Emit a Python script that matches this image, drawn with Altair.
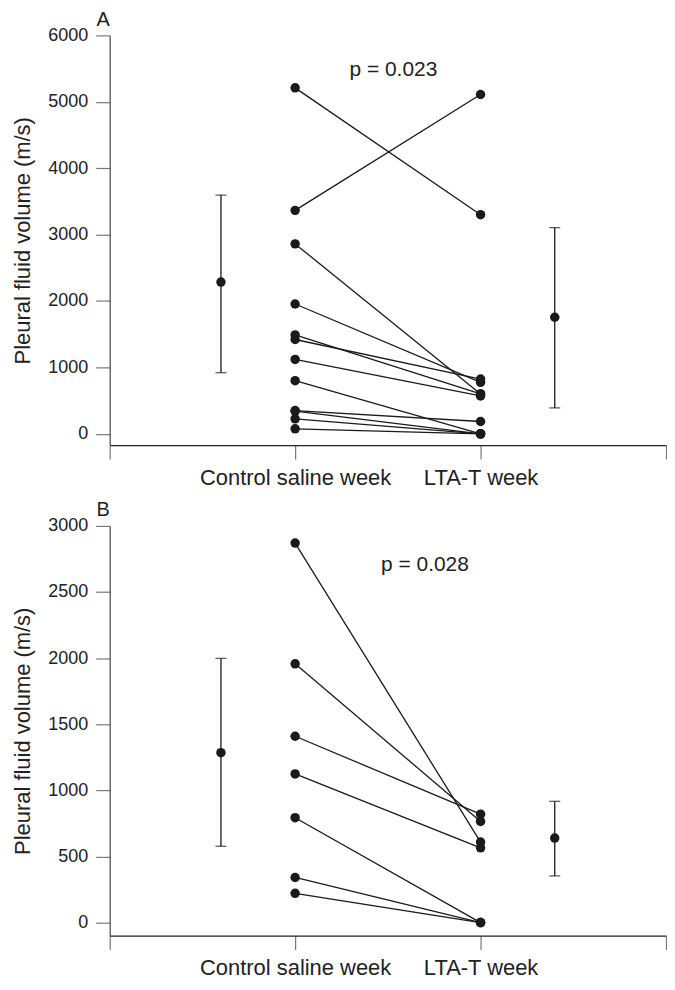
import altair as alt
import pandas as pd

# ---------------- data ----------------
WEEKS = ["Control saline week", "LTA-T week"]

A_CONTROL = [5210, 3365, 2860, 1955, 1490, 1420, 1120, 800, 350, 340, 225, 75]
A_LTAT = [3300, 5110, 600, 775, 600, 825, 570, 0, 185, 0, 0, 0]
A_MEAN = [2285, 1755]
A_UPPER = [3595, 3105]
A_LOWER = [920, 390]
A_P = "p = 0.023"
A_TICKS = [0, 1000, 2000, 3000, 4000, 5000, 6000]

B_CONTROL = [2870, 1957, 1409, 1124, 793, 341, 221]
B_LTAT = [609, 765, 820, 565, 0, 0, 0]
B_MEAN = [1285, 639]
B_UPPER = [1998, 917]
B_LOWER = [577, 353]
B_P = "p = 0.028"
B_TICKS = [0, 500, 1000, 1500, 2000, 2500, 3000]

Y_TITLE = "Pleural fluid volume (m/s)"

# ---------------- layout constants ----------------
WEEK_X = [1, 2]
SUMMARY_X = [0.6, 2.4]
X_DOMAIN = [0, 3]
A_Y_DOMAIN = [-171, 6000]
B_Y_DOMAIN = [-99, 3000]
A_P_POS = (1.53, 5477)
B_P_POS = (1.70, 2706)

FONT = "Liberation Sans"
INK = "#1a1a1a"
TXT = "#222"
W = 558
H_PANEL = 411


def panel(letter, control, ltat, mean, upper, lower, ptext, ppos, ticks, ydomain, height):
    pairs = []
    for i, (c, t) in enumerate(zip(control, ltat)):
        pairs.append({"patient": i, "week": WEEKS[0], "x": WEEK_X[0], "value": c})
        pairs.append({"patient": i, "week": WEEKS[1], "x": WEEK_X[1], "value": t})
    pdf = pd.DataFrame(pairs)
    sdf = pd.DataFrame({"x": SUMMARY_X, "value": mean, "upper": upper, "lower": lower})
    tdf = pd.DataFrame({"x": [ppos[0]], "value": [ppos[1]], "label": [ptext]})
    ldf = pd.DataFrame({"label": [letter]})

    xscale = alt.Scale(domain=X_DOMAIN, nice=False, zero=False)
    yscale = alt.Scale(domain=ydomain, nice=False, zero=False)
    xaxis = alt.Axis(
        values=[0, 1, 2, 3],
        labelExpr=f"datum.value == 1 ? '{WEEKS[0]}' : datum.value == 2 ? '{WEEKS[1]}' : ''",
        title=None, grid=False, tickSize=14, labelPadding=8, labelFontSize=22,
        labelOverlap=False, labelFlush=False, labelLimit=400, domainColor="#222",
        tickColor="#777", labelColor=TXT, labelFont=FONT, tickWidth=1.2,
        domainWidth=1.3,
    )
    yaxis = alt.Axis(
        values=ticks, format="d", title=Y_TITLE, grid=False, tickSize=14, labelPadding=8,
        labelFontSize=18, labelFont=FONT, labelColor=TXT, labelFlush=False,
        titleFont=FONT, titleFontSize=22, titleFontWeight="normal", titleColor=TXT,
        titlePadding=13, domainColor="#444", tickColor="#777", tickWidth=1.2,
        domainWidth=1.2, labelOverlap=False,
    )

    def X(f="x"):
        return alt.X(f"{f}:Q", scale=xscale, axis=xaxis)

    def Y(f="value"):
        return alt.Y(f"{f}:Q", scale=yscale, axis=yaxis)

    lines = alt.Chart(pdf).mark_line(color=INK, strokeWidth=1.3).encode(
        x=X(), y=Y(), detail="patient:N"
    )
    dots = alt.Chart(pdf).mark_circle(color=INK, size=90, opacity=1).encode(x=X(), y=Y())
    rules = alt.Chart(sdf).mark_rule(color=INK, strokeWidth=1.3).encode(
        x=X(), y=Y("lower"), y2="upper:Q"
    )
    cap_hi = alt.Chart(sdf).mark_tick(color=INK, orient="horizontal", size=11, thickness=1.3).encode(
        x=X(), y=Y("upper")
    )
    cap_lo = alt.Chart(sdf).mark_tick(color=INK, orient="horizontal", size=11, thickness=1.3).encode(
        x=X(), y=Y("lower")
    )
    means = alt.Chart(sdf).mark_circle(color=INK, size=90, opacity=1).encode(x=X(), y=Y())
    ptxt = alt.Chart(tdf).mark_text(
        font=FONT, fontSize=21, color=TXT, baseline="middle", align="center"
    ).encode(x=X(), y=Y(), text="label:N")
    lett = alt.Chart(ldf).mark_text(
        font=FONT, fontSize=20, color=TXT, baseline="top", align="right"
    ).encode(x=alt.value(0), y=alt.value(-25.5), text="label:N")

    return alt.layer(lines, dots, rules, cap_hi, cap_lo, means, ptxt, lett).properties(
        width=W, height=height
    )


pa = panel("A", A_CONTROL, A_LTAT, A_MEAN, A_UPPER, A_LOWER, A_P, A_P_POS, A_TICKS, A_Y_DOMAIN, H_PANEL)
pb = panel("B", B_CONTROL, B_LTAT, B_MEAN, B_UPPER, B_LOWER, B_P, B_P_POS, B_TICKS, B_Y_DOMAIN, H_PANEL)

chart = (
    alt.vconcat(pa, pb, spacing=12)
    .properties(padding={"left": 3, "top": 0, "right": 0, "bottom": 0})
    .configure(background="white")
    .configure_view(stroke=None)
)

chart.save("out.html", embed_options={"renderer": "svg", "actions": False})
